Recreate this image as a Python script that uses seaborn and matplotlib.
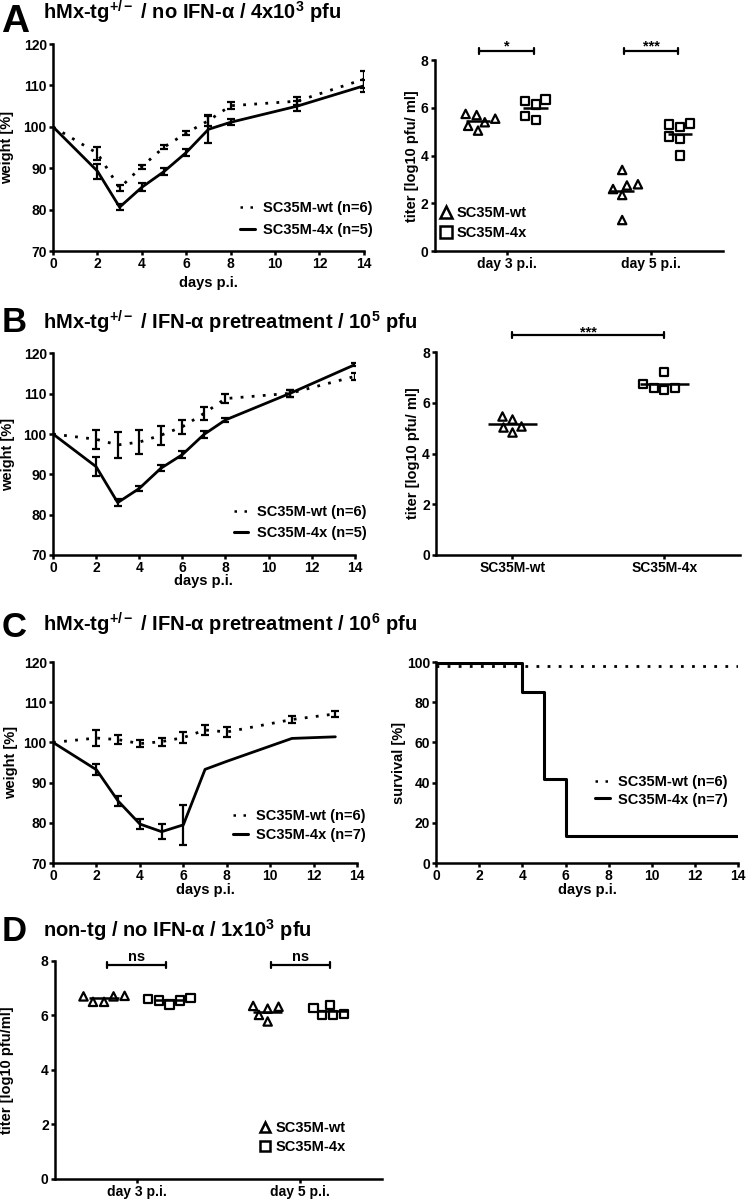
import numpy as np
import pandas as pd
import matplotlib
matplotlib.use('Agg')
import matplotlib.pyplot as plt
from matplotlib.lines import Line2D
import seaborn as sns

# body weight curves, mean and sem per day
days_a = [0, 2, 3, 4, 5, 6, 7, 8, 11, 14]
a_wt_mean = [100, 93.6, 85.2, 90.4, 95.1, 98.5, 101.5, 105.1, 106.2, 111.5]
a_wt_sem = [np.nan, 1.5, 0.8, 0.5, 0.4, 0.5, 1.2, 0.9, 1.0, 2.0]
a_4x_mean = [100, 89.3, 80.6, 85.4, 89.2, 93.8, 99.4, 101.1, 105.0, 109.9]
a_4x_sem = [np.nan, 1.8, 0.7, 1.0, 0.8, 0.8, 3.4, 0.7, 1.2, 1.5]

days_b = [0, 2, 3, 4, 5, 6, 7, 8, 11, 14]
b_wt_mean = [100, 98.7, 97.3, 98.0, 99.7, 101.8, 105.1, 108.8, 110.1, 114.3]
b_wt_sem = [np.nan, 2.3, 3.3, 3.0, 2.3, 1.7, 1.5, 1.1, 0.8, 0.9]
b_4x_mean = [100, 91.9, 83.0, 86.5, 91.5, 94.9, 99.9, 103.5, 110.1, 117.2]
b_4x_sem = [np.nan, 2.4, 0.9, 0.6, 0.7, 0.8, 0.8, 0.6, 0.8, 0.4]

days_c = [0, 2, 3, 4, 5, 6, 7, 8, 11, 13]
c_wt_mean = [100, 101.1, 100.7, 99.7, 100.2, 101.2, 103.1, 102.6, 105.7, 107.1]
c_wt_sem = [np.nan, 2.0, 1.2, 0.8, 1.0, 1.3, 1.3, 1.3, 0.8, 0.7]
c_4x_mean = [100, 93.2, 85.4, 79.7, 77.8, 79.5, 93.3, 95.3, 101.0, 101.4]
c_4x_sem = [np.nan, 1.4, 1.2, 1.2, 1.8, 5.0, np.nan, np.nan, np.nan, np.nan]

# survival (panel C right)
surv_days = [0, 4, 5, 6, 14]
surv_wt = [98, 98, 98, 98, 98]
surv_4x = [99.6, 85, 42, 13.5, 13.5]

# lung titers, log10 pfu/ml
a_wt_d3 = [5.4, 5.75, 5.05, 5.25, 5.7, 5.55]
a_4x_d3 = [6.3, 5.5, 6.15, 5.65, 6.35]
a_wt_d5 = [2.8, 2.6, 3.4, 2.35, 2.75, 1.3]
a_4x_d5 = [4.8, 5.3, 4.7, 5.35, 5.2, 4.0]

b_wt = [5.1, 4.85, 5.5, 5.05, 5.35]
b_4x = [6.6, 6.5, 7.2, 6.6, 6.75]

d_wt_d3 = [6.72, 6.7, 6.5, 6.5, 6.7]
d_4x_d3 = [6.65, 6.6, 6.4, 6.55, 6.55]
d_wt_d5 = [6.32, 6.25, 5.78, 6.02, 6.35]
d_4x_d5 = [6.39, 6.05, 6.02, 6.02, 6.27]

strains = ['SC35M-wt', 'SC35M-4x']
days_cat = ['day 3 p.i.', 'day 5 p.i.']

sns.set_style('ticks', {'axes.edgecolor': 'black', 'text.color': 'black',
                        'xtick.color': 'black', 'ytick.color': 'black',
                        'axes.labelcolor': 'black'})
plt.rcParams['font.family'] = ['Liberation Sans', 'DejaVu Sans']
plt.rcParams['font.weight'] = 'bold'
plt.rcParams['axes.labelweight'] = 'bold'
plt.rcParams['mathtext.fontset'] = 'custom'
plt.rcParams['mathtext.rm'] = 'Liberation Sans:bold'
plt.rcParams['mathtext.bf'] = 'Liberation Sans:bold'
plt.rcParams['mathtext.it'] = 'Liberation Sans:bold'
plt.rcParams['axes.linewidth'] = 1.8
plt.rcParams['xtick.major.width'] = 1.8
plt.rcParams['ytick.major.width'] = 1.8
plt.rcParams['xtick.major.size'] = 3
plt.rcParams['ytick.major.size'] = 3
plt.rcParams['xtick.major.pad'] = 1.5
plt.rcParams['ytick.major.pad'] = 1.5
plt.rcParams['xtick.labelsize'] = 10
plt.rcParams['ytick.labelsize'] = 10
plt.rcParams['axes.labelsize'] = 10.5

DOT = (0, (1, 3))

fig = plt.figure(figsize=(7.47, 12), dpi=100)

ax_a1 = fig.add_axes([0.071, 0.7908, 0.416, 0.1725])
ax_a2 = fig.add_axes([0.582, 0.7908, 0.386, 0.159])
ax_b1 = fig.add_axes([0.071, 0.5375, 0.404, 0.168])
ax_b2 = fig.add_axes([0.584, 0.5375, 0.407, 0.169])
ax_c1 = fig.add_axes([0.071, 0.2808, 0.407, 0.1675])
ax_c2 = fig.add_axes([0.584, 0.2808, 0.404, 0.1675])
ax_d = fig.add_axes([0.0736, 0.0175, 0.438, 0.1817])


def line_legend(ax, labels, x, y, spacing):
    handles = [Line2D([], [], color='black', lw=1.8, linestyle=DOT),
               Line2D([], [], color='black', lw=2.2)]
    ax.legend(handles, labels, loc='center right', bbox_to_anchor=(x, y),
              frameon=False, fontsize=10.5, handlelength=1.0, handletextpad=0.6,
              labelspacing=spacing, borderpad=0, borderaxespad=0)


def marker_legend(ax, x, y, msize, spacing):
    handles = [Line2D([], [], ls='none', marker='^', ms=msize, mfc='white', mec='black', mew=1.8),
               Line2D([], [], ls='none', marker='s', ms=msize, mfc='white', mec='black', mew=1.8)]
    ax.legend(handles, strains, loc='center left', bbox_to_anchor=(x, y),
              frameon=False, fontsize=10.5, handlelength=0.8, handletextpad=0.3,
              labelspacing=spacing, borderpad=0, borderaxespad=0)


def weight_panel(ax, days, wt_mean, wt_sem, x4_mean, x4_sem):
    for mean, sem, ls in [(wt_mean, wt_sem, DOT), (x4_mean, x4_sem, '-')]:
        sns.lineplot(x=days, y=mean, ax=ax, color='black', linewidth=2.0, linestyle=ls)
        d = np.array(days, dtype=float)
        m = np.array(mean, dtype=float)
        s = np.array(sem, dtype=float)
        ok = ~np.isnan(s)
        ax.errorbar(d[ok], m[ok], yerr=s[ok], fmt='none', ecolor='black',
                    elinewidth=1.6, capsize=2.6, capthick=1.6)
    ax.set_xlim(0, 14)
    ax.set_ylim(70, 120)
    ax.set_xticks(range(0, 15, 2))
    ax.set_yticks(range(70, 121, 10))
    ax.set_xlabel('days p.i.')
    ax.set_ylabel('weight [%]')
    sns.despine(ax=ax)


def make_df(parts):
    rows = []
    for grp, strain, vals in parts:
        for v in vals:
            rows.append({'group': grp, 'strain': strain, 'titer': v})
    return pd.DataFrame(rows)


def titer_panel(ax, df, order, dodge, half):
    offsets = {'SC35M-wt': -0.2, 'SC35M-4x': 0.2} if dodge else {'SC35M-wt': 0, 'SC35M-4x': 0}
    for s, mk in zip(strains, ['^', 's']):
        sub = df[df.strain == s]
        if dodge:
            sns.swarmplot(data=sub, x='group', y='titer', order=order, hue='strain',
                          hue_order=strains, dodge=True, palette={k: 'white' for k in strains},
                          marker=mk, size=6, edgecolor='black', linewidth=1.6,
                          legend=False, ax=ax)
        else:
            sns.swarmplot(data=sub, x='group', y='titer', order=order, color='white',
                          marker=mk, size=6, edgecolor='black', linewidth=1.6,
                          legend=False, ax=ax)
    means = df.groupby(['group', 'strain'])['titer'].mean()
    for (g, s), m in means.items():
        pos = order.index(g) + offsets[s]
        ax.hlines(m, pos - half, pos + half, color='black', lw=1.8, zorder=4)
    ax.set_xlim(-0.5, 1.5)
    ax.set_ylim(0, 8)
    ax.set_yticks([0, 2, 4, 6, 8])
    ax.set_xlabel('')
    ax.set_ylabel('titer [log10 pfu/ ml]')
    sns.despine(ax=ax)


def sig_bar(ax, x1, x2, y, text, tick, dy):
    ax.plot([x1, x2], [y, y], color='black', lw=1.6, clip_on=False)
    for xx in (x1, x2):
        ax.plot([xx, xx], [y - tick, y + tick], color='black', lw=1.6, clip_on=False)
    ax.text((x1 + x2) / 2, y + dy, text, ha='center', va='baseline', fontsize=10.5,
            clip_on=False)


# ---- A ----
weight_panel(ax_a1, days_a, a_wt_mean, a_wt_sem, a_4x_mean, a_4x_sem)
line_legend(ax_a1, ['SC35M-wt (n=6)', 'SC35M-4x (n=5)'], 1.03, 0.155, 0.55)
ax_a1.yaxis.set_label_coords(-0.125, 0.5)
ax_a1.xaxis.set_label_coords(0.5, -0.12)

df_a = make_df([('day 3 p.i.', 'SC35M-wt', a_wt_d3), ('day 3 p.i.', 'SC35M-4x', a_4x_d3),
                ('day 5 p.i.', 'SC35M-wt', a_wt_d5), ('day 5 p.i.', 'SC35M-4x', a_4x_d5)])
titer_panel(ax_a2, df_a, days_cat, True, 0.085)
marker_legend(ax_a2, 0.02, 0.147, 8, 0.45)
ax_a2.yaxis.set_label_coords(-0.056, 0.5)
sig_bar(ax_a2, -0.19, 0.19, 8.39, '*', 0.12, 0.0)
sig_bar(ax_a2, 0.81, 1.19, 8.39, '***', 0.12, 0.0)

# ---- B ----
weight_panel(ax_b1, days_b, b_wt_mean, b_wt_sem, b_4x_mean, b_4x_sem)
line_legend(ax_b1, ['SC35M-wt (n=6)', 'SC35M-4x (n=5)'], 1.04, 0.161, 0.45)
ax_b1.yaxis.set_label_coords(-0.126, 0.5)
ax_b1.xaxis.set_label_coords(0.5, -0.095)

df_b = make_df([('SC35M-wt', 'SC35M-wt', b_wt), ('SC35M-4x', 'SC35M-4x', b_4x)])
titer_panel(ax_b2, df_b, strains, False, 0.16)
ax_b2.yaxis.set_label_coords(-0.053, 0.5)
sig_bar(ax_b2, 0.0, 1.0, 8.67, '***', 0.12, -0.05)

# ---- C ----
weight_panel(ax_c1, days_c, c_wt_mean, c_wt_sem, c_4x_mean, c_4x_sem)
line_legend(ax_c1, ['SC35M-wt (n=6)', 'SC35M-4x (n=7)'], 1.03, 0.187, 0.3)
ax_c1.yaxis.set_label_coords(-0.115, 0.5)
ax_c1.xaxis.set_label_coords(0.5, -0.1)

sns.lineplot(x=surv_days, y=surv_wt, ax=ax_c2, color='black', linewidth=2.0,
             linestyle=DOT, drawstyle='steps-post')
sns.lineplot(x=surv_days, y=surv_4x, ax=ax_c2, color='black', linewidth=2.2,
             drawstyle='steps-post')
ax_c2.set_xlim(0, 14)
ax_c2.set_ylim(0, 100)
ax_c2.set_xticks(range(0, 15, 2))
ax_c2.set_yticks(range(0, 101, 20))
ax_c2.set_xlabel('days p.i.')
ax_c2.set_ylabel('survival [%]')
sns.despine(ax=ax_c2)
line_legend(ax_c2, ['SC35M-wt (n=6)', 'SC35M-4x (n=7)'], 0.967, 0.36, 0.25)
ax_c2.yaxis.set_label_coords(-0.1, 0.5)
ax_c2.xaxis.set_label_coords(0.5, -0.1)

# ---- D ----
df_d = make_df([('day 3 p.i.', 'SC35M-wt', d_wt_d3), ('day 3 p.i.', 'SC35M-4x', d_4x_d3),
                ('day 5 p.i.', 'SC35M-wt', d_wt_d5), ('day 5 p.i.', 'SC35M-4x', d_4x_d5)])
titer_panel(ax_d, df_d, days_cat, True, 0.09)
ax_d.set_ylabel('titer [log10 pfu/ml]')
marker_legend(ax_d, 0.625, 0.19, 6.5, 0.35)
ax_d.yaxis.set_label_coords(-0.125, 0.5)
sig_bar(ax_d, -0.18, 0.18, 7.85, 'ns', 0.1, 0.15)
sig_bar(ax_d, 0.82, 1.18, 7.85, 'ns', 0.1, 0.15)

# ---- panel letters and titles ----
titles = [
    ('A', r'hMx-tg$^{+/-}$ / no IFN-α / 4x10$^{3}$ pfu', 32, 19, 28),
    ('B', r'hMx-tg$^{+/-}$ / IFN-α pretreatment / 10$^{5}$ pfu', 332, 330, 25),
    ('C', r'hMx-tg$^{+/-}$ / IFN-α pretreatment / 10$^{6}$ pfu', 637, 632, 25),
    ('D', r'non-tg / no IFN-α / 1x10$^{3}$ pfu', 941, 937, 25),
]
for letter, text, y_letter, y_title, lsize in titles:
    fig.text(0.002, 1 - y_letter / 1200, letter, fontsize=lsize, fontweight='bold',
             va='baseline', ha='left')
    fig.text(43 / 747, 1 - y_title / 1200, text, fontsize=14.5, fontweight='bold',
             va='baseline', ha='left')

fig.savefig('out.png', dpi=100)
